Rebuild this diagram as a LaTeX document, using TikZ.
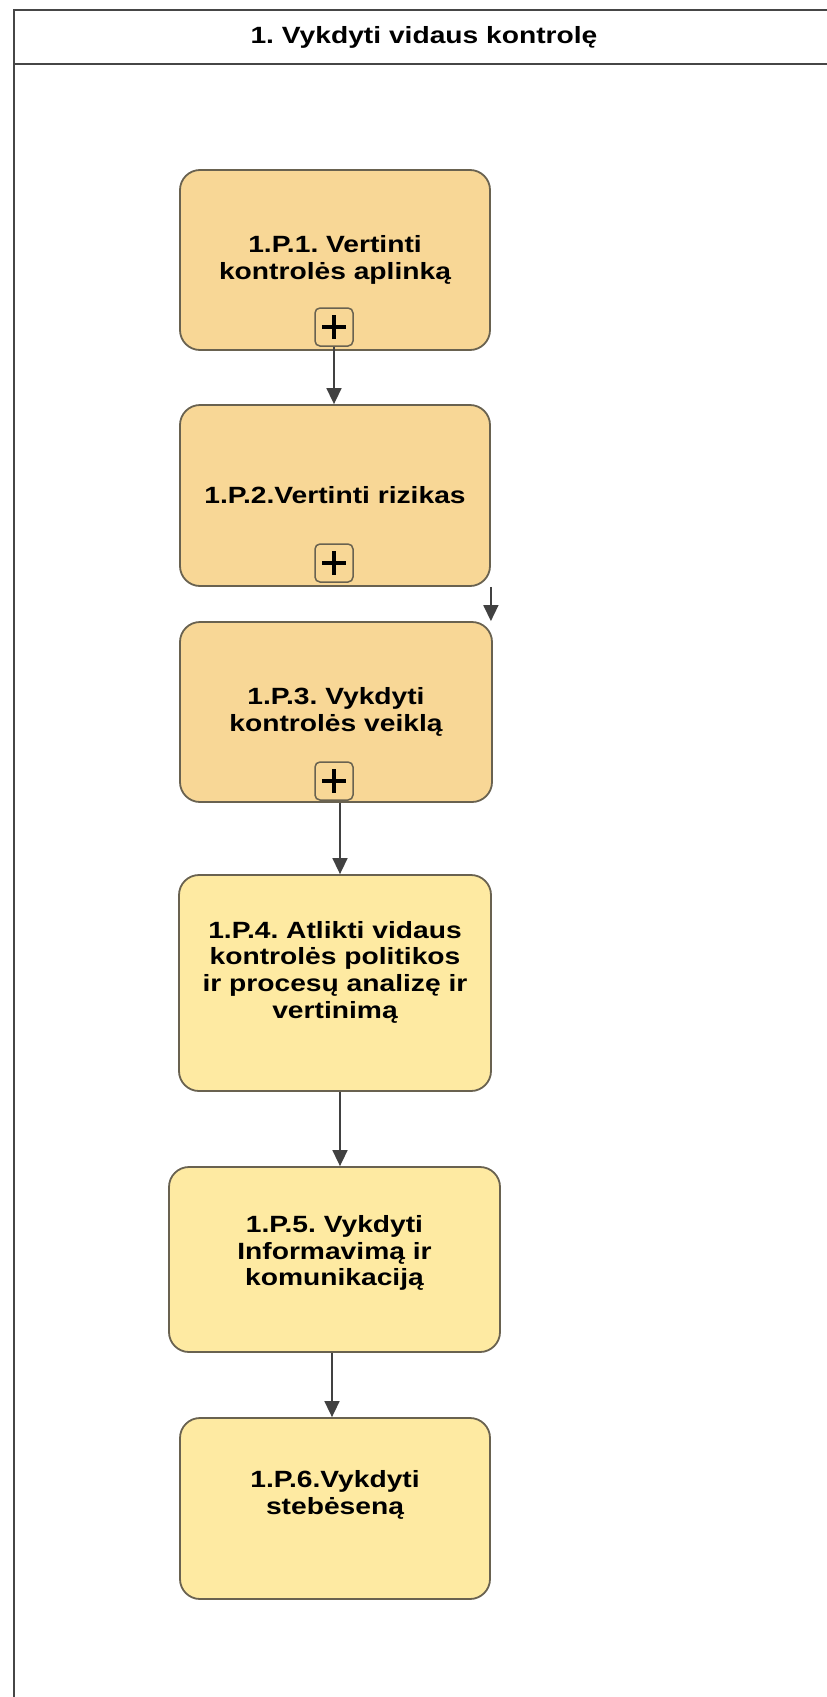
\documentclass[tikz,border=0pt]{standalone}
\usepackage{fontspec}
\setmainfont{Liberation Sans}[FakeStretch=1.2]
\usetikzlibrary{arrows.meta,calc}
\definecolor{tanfill}{RGB}{248,215,150}
\definecolor{lightfill}{RGB}{254,234,162}
\definecolor{boxline}{RGB}{105,98,80}
\definecolor{frameline}{RGB}{70,70,70}
\definecolor{arrowcol}{RGB}{65,65,65}
\frenchspacing
\begin{document}
\begin{tikzpicture}[x=1pt,y=-1pt,
  box/.style={draw=boxline,line width=1.8pt,rounded corners=20pt,inner sep=0pt},
  tanbox/.style={box,fill=tanfill},
  lightbox/.style={box,fill=lightfill},
  lbl/.style={align=center,font=\bfseries\fontsize{23.5}{26.7}\selectfont,inner sep=0pt},
  plusbox/.style={draw=boxline,line width=1.5pt,rounded corners=5pt,fill=tanfill,minimum width=38pt,minimum height=38pt,inner sep=0pt},
  flow/.style={draw=arrowcol,line width=1.6pt,-{Triangle[width=15pt,length=16pt]}}
]
\useasboundingbox (0,0) rectangle (827,1697);
\fill[white] (0,0) rectangle (827,1697);
% frame
\draw[frameline,line width=2.8pt] (14,1700) -- (14,10) -- (830,10);
\draw[frameline,line width=2.8pt] (14,64) -- (830,64);
\node[lbl] (title) at (424,37) {1. Vykdyti vidaus kontrolę};
% boxes
\node[tanbox,minimum width=310pt,minimum height=180pt] (b1) at (335,260) {};
\node[tanbox,minimum width=310pt,minimum height=181pt] (b2) at (335,495.5) {};
\node[tanbox,minimum width=312pt,minimum height=180pt] (b3) at (336,712) {};
\node[lightbox,minimum width=312pt,minimum height=216pt] (b4) at (335,983) {};
\node[lightbox,minimum width=331pt,minimum height=185pt] (b5) at (334.5,1259.5) {};
\node[lightbox,minimum width=310pt,minimum height=181pt] (b6) at (335,1508.5) {};
% labels
\node[lbl] (t1) at (335,260) {1.P.1. Vertinti\\kontrolės aplinką};
\node[lbl] (t2) at (335,495.5) {1.P.2.Vertinti rizikas};
\node[lbl] (t3) at (336,712) {1.P.3. Vykdyti\\kontrolės veiklą};
\node[lbl] (t4) at (335,972) {1.P.4. Atlikti vidaus\\kontrolės politikos\\ir procesų analizę ir\\vertinimą};
\node[lbl] (t5) at (334.5,1253) {1.P.5. Vykdyti\\Informavimą ir\\komunikaciją};
\node[lbl] (t6) at (335,1495) {1.P.6.Vykdyti\\stebėseną};
% plus markers
\foreach \n/\y in {1/327,2/563,3/781}{
  \node[plusbox] (p\n) at (334,\y) {};
  \draw[black,line width=4pt] ($(p\n.center)+(-12,0)$) -- ($(p\n.center)+(12,0)$);
  \draw[black,line width=4pt] ($(p\n.center)+(0,-12)$) -- ($(p\n.center)+(0,12)$);
}
% connectors
\draw[flow] (p1.south) -- (p1.south |- b2.north);
\draw[flow] (b2.south east) -- (b2.south east |- b3.north);
\draw[flow] ([xshift=4pt]b3.south) -- ([xshift=4pt]b3.south |- b4.north);
\draw[flow] ([xshift=5pt]b4.south) -- ([xshift=5pt]b4.south |- b5.north);
\draw[flow] ([xshift=-2.5pt]b5.south) -- ([xshift=-2.5pt]b5.south |- b6.north);
\end{tikzpicture}
\end{document}
